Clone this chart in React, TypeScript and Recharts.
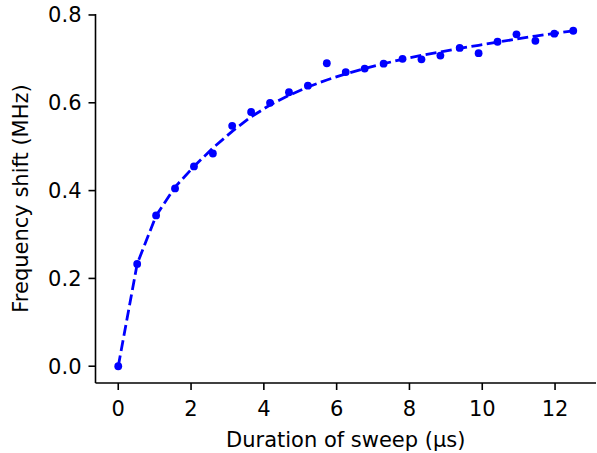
import React from "react";
import { ComposedChart, Line, XAxis, YAxis, Label } from "recharts";

const durations = [0, 0.52, 1.04, 1.56, 2.08, 2.6, 3.13, 3.65, 4.17, 4.69, 5.21, 5.73, 6.25, 6.77, 7.29, 7.81, 8.33, 8.85, 9.38, 9.9, 10.42, 10.94, 11.46, 11.98, 12.5];
const measuredShift = [0, 0.233, 0.3435, 0.405, 0.455, 0.4845, 0.5475, 0.579, 0.6, 0.624, 0.639, 0.69, 0.67, 0.678, 0.689, 0.7, 0.699, 0.7075, 0.725, 0.713, 0.739, 0.756, 0.741, 0.7575, 0.764];
const fittedShift = [0, 0.233, 0.343, 0.408, 0.455, 0.497, 0.535, 0.568, 0.595, 0.617, 0.636, 0.652, 0.666, 0.678, 0.689, 0.699, 0.708, 0.716, 0.724, 0.731, 0.738, 0.745, 0.752, 0.758, 0.764];
const xTicks = [0, 2, 4, 6, 8, 10, 12];
const yTicks = [0, 0.2, 0.4, 0.6, 0.8];

const data = durations.map((x, i) => ({ x, y: measuredShift[i], fit: fittedShift[i] }));

const FONT = "DejaVu Sans";
const FS = 21;
const SPINE = 1.6;

export default function App() {
  return (
    <div style={{ position: "absolute", left: 0, top: 0 }}>
      <ComposedChart
        width={597}
        height={453}
        data={data}
        margin={{ top: 14, right: 1, bottom: 0, left: 0 }}
      >
        <XAxis
          xAxisId="b"
          dataKey="x"
          type="number"
          domain={[-0.625, 13.125]}
          ticks={xTicks}
          allowDataOverflow
          height={70}
          tickSize={7}
          tickMargin={11}
          axisLine={{ stroke: "#000", strokeWidth: SPINE }}
          tickLine={{ stroke: "#000", strokeWidth: SPINE }}
          tick={{ fill: "#000", fontSize: FS, fontFamily: FONT }}
          interval={0}
        >
          <Label
            content={(props: any) => {
              const vb = props.viewBox;
              return (
                <text x={vb.x + vb.width / 2} y={vb.y + 64} textAnchor="middle" fontSize={FS} fontFamily={FONT} fill="#000">
                  Duration of sweep (µs)
                </text>
              );
            }}
          />
        </XAxis>
        <XAxis
          xAxisId="t"
          orientation="top"
          dataKey="x"
          type="number"
          domain={[-0.625, 13.125]}
          height={0}
          tick={false}
          tickLine={false}
          axisLine={{ stroke: "#000", strokeWidth: SPINE }}
        />
        <YAxis
          yAxisId="l"
          type="number"
          domain={[-0.0382, 0.8022]}
          ticks={yTicks}
          allowDataOverflow
          width={95.5}
          tickSize={7}
          tickMargin={7}
          tickFormatter={(v: number) => v.toFixed(1)}
          axisLine={{ stroke: "#000", strokeWidth: SPINE }}
          tickLine={{ stroke: "#000", strokeWidth: SPINE }}
          tick={{ fill: "#000", fontSize: FS, fontFamily: FONT }}
          interval={0}
        >
          <Label
            content={(props: any) => {
              const vb = props.viewBox;
              const cx = vb.x + 28;
              const cy = vb.y + vb.height / 2;
              return (
                <text x={cx} y={cy} textAnchor="middle" transform={`rotate(-90 ${cx} ${cy})`} fontSize={FS} fontFamily={FONT} fill="#000">
                  Frequency shift (MHz)
                </text>
              );
            }}
          />
        </YAxis>
        <YAxis
          yAxisId="r"
          orientation="right"
          type="number"
          domain={[-0.0382, 0.8022]}
          width={0}
          tick={false}
          tickLine={false}
          axisLine={{ stroke: "#000", strokeWidth: SPINE }}
        />
        <Line
          xAxisId="b"
          yAxisId="l"
          dataKey="y"
          stroke="none"
          isAnimationActive={false}
          dot={{ r: 3.9, fill: "#0000ff", stroke: "none" }}
          activeDot={false}
        />
        <Line
          xAxisId="b"
          yAxisId="l"
          dataKey="fit"
          type="linear"
          stroke="#0000ff"
          strokeWidth={2.8}
          strokeDasharray="11 4.5"
          dot={false}
          activeDot={false}
          isAnimationActive={false}
        />
      </ComposedChart>
    </div>
  );
}
